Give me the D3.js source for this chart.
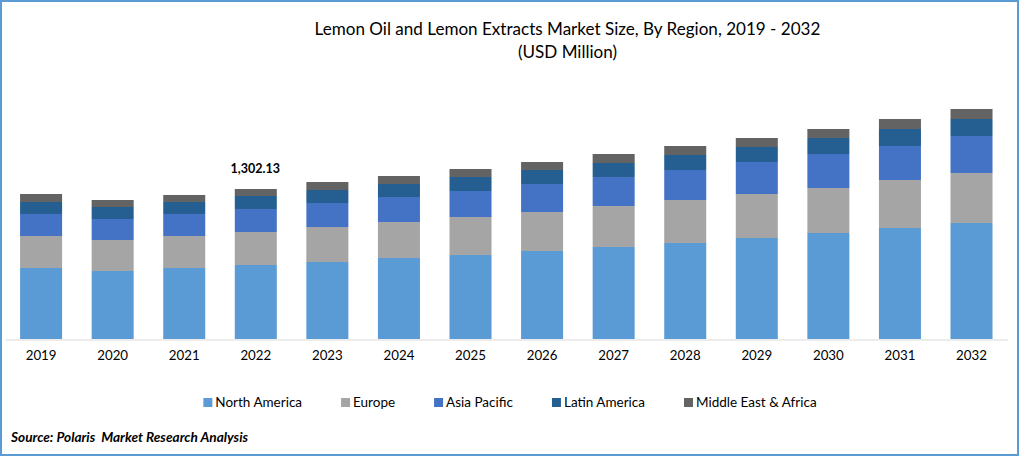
<!DOCTYPE html>
<html>
<head>
<meta charset="utf-8">
<script src="https://cdn.jsdelivr.net/npm/d3@7"></script>
<style>
html,body{margin:0;padding:0;background:#fff;overflow:hidden}
svg{display:block}
text{font-family:Lato,"Open Sans",sans-serif;fill:#000}
</style>
</head>
<body>
<svg id="chart" width="1019" height="456"></svg>
<script>
const years = ["2019","2020","2021","2022","2023","2024","2025","2026","2027","2028","2029","2030","2031","2032"];
const regions = ["North America","Europe","Asia Pacific","Latin America","Middle East & Africa"];
const colors = ["#5B9BD5","#A5A5A5","#4472C4","#255E91","#636363"];
const northAmerica = [616.4,590.3,616.4,642.4,668.4,703.2,729.2,763.9,798.7,833.4,876.8,920.2,963.6,1007.0];
const europe = [277.8,269.1,277.8,286.5,303.8,312.5,329.9,338.6,355.9,373.3,382.0,390.6,416.7,434.1];
const asiaPacific = [191.0,182.3,191.0,199.7,208.3,217.0,225.7,243.1,251.8,260.4,277.8,295.2,295.2,321.2];
const latinAmerica = [104.2,104.2,104.2,112.83,112.9,112.9,121.5,121.5,121.5,130.2,130.2,138.9,147.6,147.6];
const middleEastAfrica = [69.4,60.8,60.8,60.7,69.4,69.4,69.4,69.4,78.1,78.1,78.1,78.1,86.8,86.8];
const labelledYear = "2022";
const labelledText = "1,302.13";
const titleLines = ["Lemon Oil and Lemon Extracts Market Size, By Region, 2019 - 2032","(USD Million)"];
const sourceText = "Source: Polaris  Market Research Analysis";

const W = 1019, H = 456;
const svg = d3.select("#chart");
const rows = years.map((y,i)=>({year:y,"North America":northAmerica[i],"Europe":europe[i],"Asia Pacific":asiaPacific[i],"Latin America":latinAmerica[i],"Middle East & Africa":middleEastAfrica[i]}));
const stacked = d3.stack().keys(regions)(rows);

const x = d3.scaleBand().domain(years).range([5.3,1007.3]).paddingInner(0.413).paddingOuter(0.2065);
const y = d3.scaleLinear().domain([0,1302.13]).range([339,189]);
const color = d3.scaleOrdinal().domain(regions).range(colors);

svg.append("g").selectAll("g").data(stacked).join("g").attr("fill",d=>color(d.key))
  .selectAll("rect").data(d=>d).join("rect")
  .attr("x",d=>x(d.data.year)).attr("width",x.bandwidth())
  .attr("y",d=>y(d[1])).attr("height",d=>y(d[0])-y(d[1]));

const axis = svg.append("g").attr("transform","translate(0,339.5)")
  .call(d3.axisBottom(x).tickSize(0).tickPadding(11));
axis.select(".domain").attr("stroke","#D9D9D9").attr("stroke-width",1);
axis.selectAll("text").attr("font-size",13.3).style("font-family","Lato,sans-serif").attr("fill","#000");

const labelRow = rows.find(r=>r.year===labelledYear);
const labelTop = d3.sum(regions,k=>labelRow[k]);
svg.append("text").attr("x",x(labelledYear)+x.bandwidth()/2-0.5).attr("y",y(labelTop)-16)
  .attr("text-anchor","middle").attr("font-size",12.5).attr("font-weight",700).text(labelledText);

svg.selectAll("text.title").data(titleLines).join("text").attr("class","title")
  .attr("x",567.5).attr("y",(d,i)=>35+i*23).attr("text-anchor","middle").attr("font-size",17.07).text(d=>d);

const legend = svg.append("g");
const entries = legend.selectAll("g").data(regions).join("g");
entries.append("rect").attr("width",9).attr("height",9).attr("y",398).attr("fill",d=>color(d));
entries.append("text").attr("x",12).attr("y",407).attr("font-size",13.5).text(d=>d);
let cursor = 0;
entries.each(function(){
  const g = d3.select(this);
  g.attr("transform",`translate(${cursor},0)`);
  cursor += 12 + g.select("text").node().getComputedTextLength() + 39;
});
legend.attr("transform",`translate(${510-(cursor-39)/2},0)`);

svg.append("text").attr("x",11).attr("y",442).attr("font-size",13.65).attr("font-weight",700).attr("font-style","italic")
  .attr("xml:space","preserve").style("white-space","pre").text(sourceText);

svg.append("rect").attr("x",1).attr("y",1).attr("width",W-2).attr("height",H-2)
  .attr("fill","none").attr("stroke","#5B9BD5").attr("stroke-width",2);
</script>
</body>
</html>
